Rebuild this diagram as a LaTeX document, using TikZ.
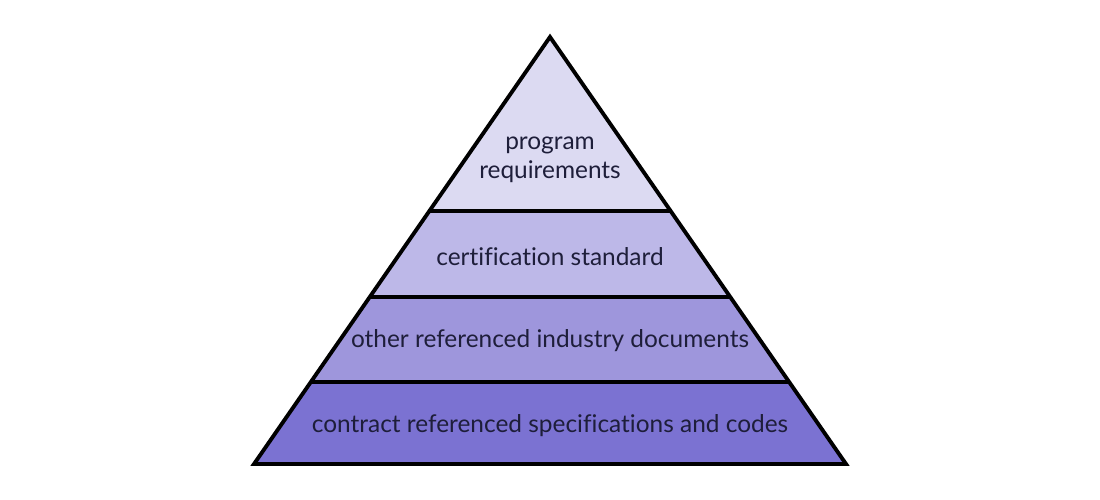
\documentclass[tikz,border=0pt]{standalone}
\usepackage{fontspec}
\setmainfont[Ligatures=NoCommon]{Lato}
\usetikzlibrary{calc}
\definecolor{pyrtop}{HTML}{DCDAF2}
\definecolor{pyrtwo}{HTML}{BDB8E8}
\definecolor{pyrthree}{HTML}{9E96DC}
\definecolor{pyrbase}{HTML}{7B72D2}
\definecolor{pyrtext}{HTML}{1E1E3A}
\begin{document}
\begin{tikzpicture}[
  pyrline/.style = {line width=2.2pt, black, line join=miter},
  pyrlbl/.style = {font=\fontsize{13.9}{16.5}\selectfont, text=pyrtext, align=center}
]
  \useasboundingbox (0,0) rectangle (22,10);
  % corners
  \coordinate (apex) at (11,9.26);
  \coordinate (bl) at (5.08,0.72);
  \coordinate (br) at (16.92,0.72);
  % layer edges on the sides
  \coordinate (l1) at ($(apex)!0.4075!(bl)$);
  \coordinate (r1) at ($(apex)!0.4075!(br)$);
  \coordinate (l2) at ($(apex)!0.6089!(bl)$);
  \coordinate (r2) at ($(apex)!0.6089!(br)$);
  \coordinate (l3) at ($(apex)!0.8080!(bl)$);
  \coordinate (r3) at ($(apex)!0.8080!(br)$);
  % layers
  \fill[pyrtop] (apex) -- (l1) -- (r1) -- cycle;
  \fill[pyrtwo] (l1) -- (l2) -- (r2) -- (r1) -- cycle;
  \fill[pyrthree] (l2) -- (l3) -- (r3) -- (r2) -- cycle;
  \fill[pyrbase] (l3) -- (bl) -- (br) -- (r3) -- cycle;
  % dividers and outline
  \draw[pyrline] (l1) -- (r1);
  \draw[pyrline] (l2) -- (r2);
  \draw[pyrline] (l3) -- (r3);
  \draw[pyrline] (apex) -- (bl) -- (br) -- cycle;
  % labels
  \node[pyrlbl] (prog) at (11,6.8) {program\\requirements};
  \node[pyrlbl] (cert) at (11,4.86) {certification standard};
  \node[pyrlbl] (other) at (11,3.18) {other referenced industry documents};
  \node[pyrlbl] (contract) at (11,1.48) {contract referenced specifications and codes};
\end{tikzpicture}
\end{document}
